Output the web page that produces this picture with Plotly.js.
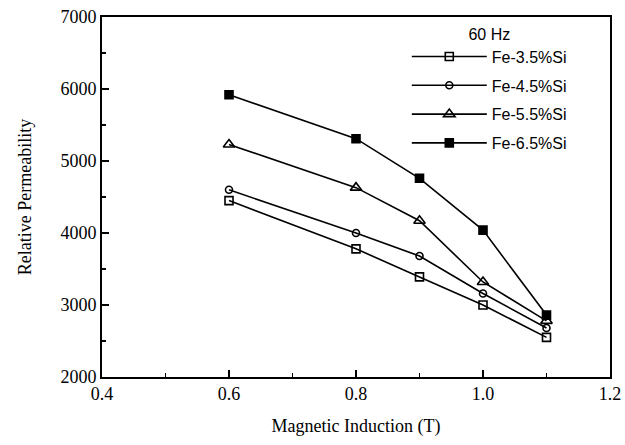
<!DOCTYPE html>
<html>
<head>
<meta charset="utf-8">
<script src="https://cdn.plot.ly/plotly-3.0.1.min.js"></script>
<style>html,body{margin:0;padding:0;background:#fff;}#chart{width:625px;height:445px;}</style>
</head>
<body>
<div id="chart"></div>
<script>
const induction = [0.6, 0.8, 0.9, 1.0, 1.1];
const seriesNames = ["Fe-3.5%Si", "Fe-4.5%Si", "Fe-5.5%Si", "Fe-6.5%Si"];
const fe35 = [4450, 3780, 3390, 3000, 2550];
const fe45 = [4600, 4000, 3680, 3160, 2680];
const fe55 = [5230, 4630, 4170, 3320, 2780];
const fe65 = [5920, 5310, 4760, 4040, 2860];
const xTickVals = [0.4, 0.6, 0.8, 1.0, 1.2];
const yTickVals = [2000, 3000, 4000, 5000, 6000, 7000];

const values = [fe35, fe45, fe55, fe65];
const symbols = ["square-open", "circle-open", "triangle-up-open", "square"];
const sizes = [8, 7, 10, 8];

const traces = values.map((v, i) => ({
  x: induction, y: v, name: seriesNames[i], legendgroup: "g" + i,
  type: "scatter", mode: "lines+markers",
  line: {color: "#000", width: 1.6},
  marker: {symbol: symbols[i], size: sizes[i], color: "#000", line: {color: "#000", width: 1.6}}
}));

const axisFont = {family: "Liberation Serif, Times New Roman, serif", size: 18, color: "#000"};

const layout = {
  width: 625, height: 445,
  margin: {l: 102, r: 15, t: 17, b: 68},
  paper_bgcolor: "#fff", plot_bgcolor: "#fff",
  showlegend: true,
  legend: {
    x: 0.6, y: 0.995, xanchor: "left", yanchor: "top",
    bgcolor: "rgba(0,0,0,0)", borderwidth: 0,
    font: {family: "Liberation Sans, Arial, sans-serif", size: 16, color: "#000"},
    title: {text: "60 Hz", side: "top center", font: {family: "Liberation Sans, Arial, sans-serif", size: 16, color: "#000"}},
    tracegroupgap: 5, itemwidth: 75
  },
  xaxis: {
    range: [0.4, 1.2], tickvals: xTickVals, tickformat: ".1f",
    showgrid: false, zeroline: false, showline: true, linecolor: "#000", linewidth: 1.8, mirror: true,
    ticks: "inside", ticklen: 7, tickwidth: 1.5, tickcolor: "#000",
    minor: {dtick: 0.1, ticks: "inside", ticklen: 4, tickwidth: 1.2, tickcolor: "#000", showgrid: false},
    tickfont: axisFont,
    title: {text: "Magnetic Induction (T)", font: axisFont, standoff: 16}
  },
  yaxis: {
    range: [2000, 7000], tickvals: yTickVals, tickformat: "d",
    showgrid: false, zeroline: false, showline: true, linecolor: "#000", linewidth: 1.8, mirror: true,
    ticks: "inside", ticklen: 7, tickwidth: 1.5, tickcolor: "#000",
    minor: {dtick: 500, ticks: "inside", ticklen: 4, tickwidth: 1.2, tickcolor: "#000", showgrid: false},
    tickfont: axisFont,
    title: {text: "Relative Permeability", font: axisFont, standoff: 24}
  }
};

Plotly.newPlot("chart", traces, layout, {displayModeBar: false, staticPlot: true});
</script>
</body>
</html>
